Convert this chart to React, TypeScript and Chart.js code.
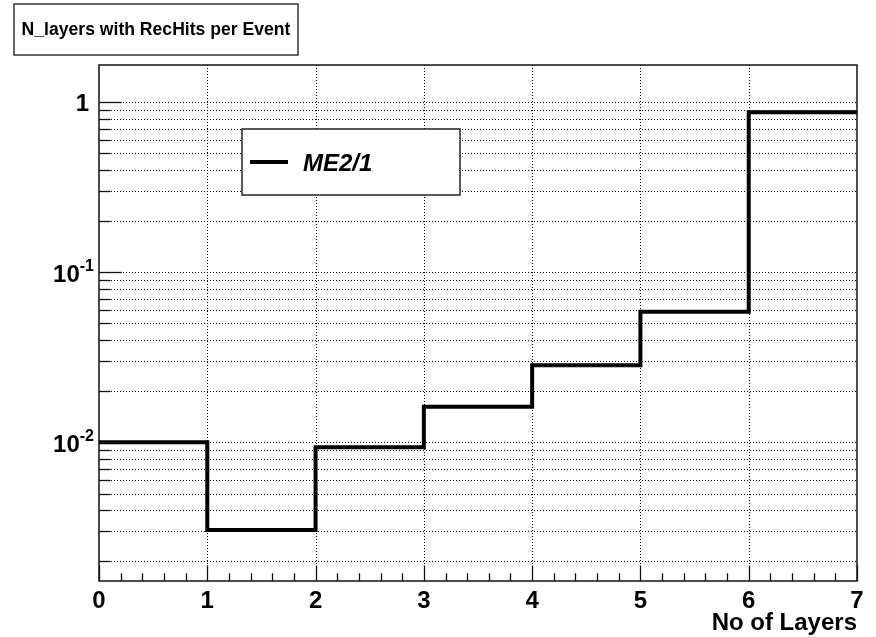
import { useEffect, useRef } from "react";
import { Chart, registerables } from "chart.js";

Chart.register(...registerables);

// ---- data ----
const binLowEdges = [0, 1, 2, 3, 4, 5, 6];
const binUpperEdge = 7;
const binValues = [0.01, 0.00305, 0.00935, 0.0162, 0.0284, 0.0586, 0.873];
const seriesLabel = "ME2/1";
const chartTitle = "N_layers with RecHits per Event";
const xTitle = "No of Layers";

// ---- axes / ticks ----
const xMin = 0;
const xMax = 7;
const xTickValues = [0, 1, 2, 3, 4, 5, 6, 7];
const xTickLabels = ["0", "1", "2", "3", "4", "5", "6", "7"];
const xMinorDivisions = 5;
const yMin = 0.00153;
const yMax = 1.656;
const yMajorValues = [1, 0.1, 0.01];
const yLabelBase = ["1", "10", "10"];
const yLabelExp = ["", "-1", "-2"];
const yDecades = [0.001, 0.01, 0.1, 1];
const yMinorMultipliers = [2, 3, 4, 5, 6, 7, 8, 9];

const FONT = '"Liberation Sans", Arial, Helvetica, sans-serif';

function yGridValues(): number[] {
  const out: number[] = [];
  for (const d of yDecades) {
    if (d >= yMin && d <= yMax) out.push(d);
    for (const m of yMinorMultipliers) {
      const v = d * m;
      if (v >= yMin && v <= yMax) out.push(v);
    }
  }
  return out;
}

const rootPlugin = {
  id: "rootStyle",
  beforeDatasetsDraw(chart: any) {
    const { ctx, chartArea: a, scales } = chart;
    const x = scales.x;
    const y = scales.y;
    ctx.save();
    ctx.strokeStyle = "#000";
    ctx.lineWidth = 1;
    ctx.setLineDash([1, 2]);
    for (const v of yGridValues()) {
      const py = Math.round(y.getPixelForValue(v)) + 0.5;
      ctx.beginPath();
      ctx.moveTo(a.left, py);
      ctx.lineTo(a.right, py);
      ctx.stroke();
    }
    for (const v of xTickValues) {
      if (v === xMin || v === xMax) continue;
      const px = Math.round(x.getPixelForValue(v)) + 0.5;
      ctx.beginPath();
      ctx.moveTo(px, a.top);
      ctx.lineTo(px, a.bottom);
      ctx.stroke();
    }
    ctx.restore();
  },
  afterDatasetsDraw(chart: any) {
    const { ctx, chartArea: a, scales } = chart;
    const x = scales.x;
    const y = scales.y;
    ctx.save();
    ctx.setLineDash([]);
    // frame
    ctx.strokeStyle = "#111";
    ctx.lineWidth = 1.5;
    ctx.strokeRect(a.left, a.top, a.right - a.left, a.bottom - a.top);

    // x ticks
    ctx.lineWidth = 1.3;
    ctx.strokeStyle = "#111";
    const plotH = a.bottom - a.top;
    const plotW = a.right - a.left;
    const xMajLen = 0.03 * plotH;
    const yMajLen = 0.03 * plotW;
    for (let i = 0; i < xTickValues.length; i++) {
      const v = xTickValues[i];
      const px = Math.round(x.getPixelForValue(v)) + 0.5;
      ctx.beginPath();
      ctx.moveTo(px, a.bottom);
      ctx.lineTo(px, a.bottom - xMajLen);
      ctx.stroke();
      if (i < xTickValues.length - 1) {
        const next = xTickValues[i + 1];
        for (let k = 1; k < xMinorDivisions; k++) {
          const mv = v + ((next - v) * k) / xMinorDivisions;
          const mx = Math.round(x.getPixelForValue(mv)) + 0.5;
          ctx.beginPath();
          ctx.moveTo(mx, a.bottom);
          ctx.lineTo(mx, a.bottom - xMajLen / 2);
          ctx.stroke();
        }
      }
    }
    // y ticks
    for (const v of yGridValues()) {
      const py = Math.round(y.getPixelForValue(v)) + 0.5;
      const isMajor = yMajorValues.includes(v);
      ctx.beginPath();
      ctx.moveTo(a.left, py);
      ctx.lineTo(a.left + (isMajor ? yMajLen : yMajLen / 2), py);
      ctx.stroke();
    }

    // x labels
    ctx.fillStyle = "#000";
    ctx.font = `bold 24px ${FONT}`;
    ctx.textAlign = "center";
    ctx.textBaseline = "alphabetic";
    for (let i = 0; i < xTickValues.length; i++) {
      const px = x.getPixelForValue(xTickValues[i]);
      ctx.fillText(xTickLabels[i], px, a.bottom + 27);
    }
    // x title
    ctx.textAlign = "right";
    ctx.fillText(xTitle, a.right, a.bottom + 49);

    // y labels
    for (let i = 0; i < yMajorValues.length; i++) {
      const py = y.getPixelForValue(yMajorValues[i]);
      const base = yLabelBase[i];
      const exp = yLabelExp[i];
      ctx.textBaseline = "alphabetic";
      if (!exp) {
        ctx.font = `bold 24px ${FONT}`;
        ctx.textAlign = "right";
        ctx.fillText(base, a.left - 10, py + 8.5);
      } else {
        ctx.font = `bold 16px ${FONT}`;
        const ew = ctx.measureText(exp).width;
        const right = a.left - 5;
        ctx.textAlign = "left";
        ctx.fillText(exp, right - ew, py - 1);
        ctx.font = `bold 24px ${FONT}`;
        ctx.textAlign = "right";
        ctx.fillText(base, right - ew, py + 9.5);
      }
    }

    // legend box
    const lx = 242, ly = 129, lw = 218, lh = 66;
    ctx.fillStyle = "#fff";
    ctx.fillRect(lx, ly, lw, lh);
    ctx.strokeStyle = "#222";
    ctx.lineWidth = 1.5;
    ctx.strokeRect(lx, ly, lw, lh);
    ctx.strokeStyle = "#000";
    ctx.lineWidth = 4;
    ctx.beginPath();
    ctx.moveTo(lx + 8, ly + 33);
    ctx.lineTo(lx + 46, ly + 33);
    ctx.stroke();
    ctx.fillStyle = "#000";
    ctx.font = `italic bold 24px ${FONT}`;
    ctx.textAlign = "left";
    ctx.textBaseline = "alphabetic";
    ctx.fillText(chart.data.datasets[0].label, lx + 61, ly + 42);

    // title box
    const tx = 14, ty = 4, tw = 284, th = 51;
    ctx.fillStyle = "#fff";
    ctx.fillRect(tx, ty, tw, th);
    ctx.strokeStyle = "#333";
    ctx.lineWidth = 1.5;
    ctx.strokeRect(tx, ty, tw, th);
    ctx.fillStyle = "#000";
    ctx.font = `bold 17.6px ${FONT}`;
    ctx.textAlign = "center";
    ctx.textBaseline = "middle";
    ctx.fillText(chartTitle, tx + tw / 2, ty + th / 2 + 1);
    ctx.restore();
  },
};

export default function App() {
  const canvasRef = useRef<HTMLCanvasElement | null>(null);

  useEffect(() => {
    if (!canvasRef.current) return;
    const points = binLowEdges.map((e, i) => ({ x: e, y: binValues[i] }));
    points.push({ x: binUpperEdge, y: binValues[binValues.length - 1] });

    const chart = new Chart(canvasRef.current, {
      type: "line",
      data: {
        datasets: [
          {
            label: seriesLabel,
            data: points,
            borderColor: "#000",
            borderWidth: 4,
            pointRadius: 0,
            stepped: true,
            fill: false,
            tension: 0,
            borderJoinStyle: "miter",
            borderCapStyle: "butt",
          } as any,
        ],
      },
      options: {
        responsive: false,
        animation: false,
        devicePixelRatio: 1,
        events: [],
        layout: { padding: { left: 99, top: 65, right: 19, bottom: 56 } },
        scales: {
          x: { type: "linear", min: xMin, max: xMax, display: false },
          y: { type: "logarithmic", min: yMin, max: yMax, display: false },
        },
        plugins: {
          legend: { display: false },
          title: { display: false },
          tooltip: { enabled: false },
        },
      },
      plugins: [rootPlugin],
    });
    return () => chart.destroy();
  }, []);

  return (
    <div style={{ position: "absolute", left: 0, top: 0, width: 876, height: 637, background: "#fff" }}>
      <canvas ref={canvasRef} width={876} height={637} style={{ display: "block" }} />
    </div>
  );
}
